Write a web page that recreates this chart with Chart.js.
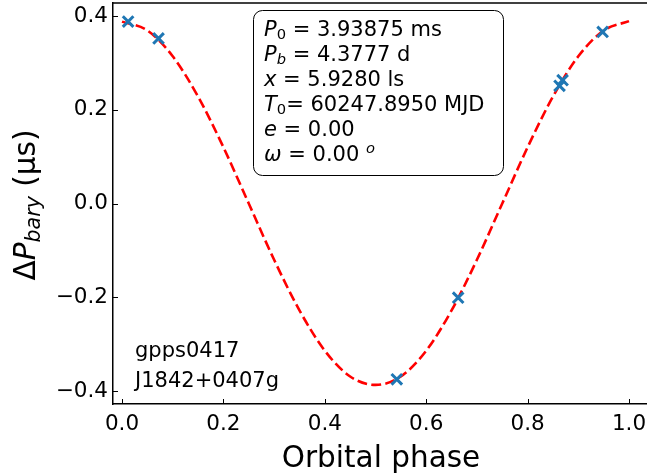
<!DOCTYPE html>
<html>
<head>
<meta charset="utf-8">
<script src="https://cdn.jsdelivr.net/npm/chart.js@4.4.1/dist/chart.umd.min.js"></script>
<style>
  html, body { margin: 0; padding: 0; background: #fff; }
  #wrap { width: 647px; height: 473px; }
</style>
</head>
<body>
<div id="wrap"><canvas id="orbit" width="647" height="473"></canvas></div>
<script>
// measured period offsets vs orbital phase
const obsPhase = [0.012, 0.072, 0.542, 0.663, 0.863, 0.869, 0.948];
const obsDeltaP = [0.388, 0.352, -0.375, -0.201, 0.251, 0.263, 0.366];

// model curve
const modelPhase = [0.00, 0.05, 0.10, 0.15, 0.20, 0.25, 0.30, 0.35, 0.40, 0.45, 0.50,
                    0.55, 0.60, 0.65, 0.70, 0.75, 0.80, 0.85, 0.90, 0.95, 1.00];
const modelDeltaP = [0.388, 0.369, 0.314, 0.228, 0.120, 0.000, -0.120, -0.228, -0.314, -0.369, -0.387,
                     -0.369, -0.314, -0.228, -0.120, 0.000, 0.120, 0.228, 0.314, 0.369, 0.389];

const xTickStep = 0.2;
const yTickStep = 0.2;

const paramLines = [
  [{ t: 'P', i: true }, { t: '0', sub: true }, { t: ' = 3.93875 ms' }],
  [{ t: 'P', i: true }, { t: 'b', i: true, sub: true }, { t: ' = 4.3777 d' }],
  [{ t: 'x', i: true }, { t: ' = 5.9280 ls' }],
  [{ t: 'T', i: true }, { t: '0', sub: true }, { t: '= 60247.8950 MJD' }],
  [{ t: 'e', i: true }, { t: ' = 0.00' }],
  [{ t: 'ω', i: true }, { t: ' = 0.00 ' }, { t: 'o', i: true, sup: true }]
];
const sourceNames = ['gpps0417', 'J1842+0407g'];

const FONT = '"DejaVu Sans", sans-serif';

function fmtTick(v) {
  if (Math.abs(v) < 1e-9) v = 0;
  return (v < 0 ? '\u2212' : '') + Math.abs(v).toFixed(1);
}

// draw a run of text pieces with italics / sub / superscripts
function richWidth(ctx, parts, size) {
  let w = 0;
  parts.forEach(p => {
    const s = (p.sub || p.sup) ? size * 0.7 : size;
    ctx.font = (p.i ? 'italic ' : '') + s + 'px ' + FONT;
    w += ctx.measureText(p.t).width;
  });
  return w;
}

function drawRich(ctx, x, y, parts, size) {
  ctx.textBaseline = 'alphabetic';
  ctx.textAlign = 'left';
  parts.forEach(p => {
    const s = (p.sub || p.sup) ? size * 0.7 : size;
    ctx.font = (p.i ? 'italic ' : '') + s + 'px ' + FONT;
    let dy = 0;
    if (p.sub) dy = size * 0.16;
    if (p.sup) dy = -size * 0.38;
    ctx.fillText(p.t, x, y + dy);
    x += ctx.measureText(p.t).width;
  });
}

const framePlugin = {
  id: 'frame',
  afterDraw(chart) {
    const ctx = chart.ctx;
    const a = chart.chartArea;
    const xs = chart.scales.x, ys = chart.scales.y;
    ctx.save();
    ctx.strokeStyle = '#000';

    // top spine
    ctx.lineWidth = 1.5;
    ctx.beginPath();
    ctx.moveTo(a.left - 0.75, a.top);
    ctx.lineTo(a.right, a.top);
    ctx.stroke();

    // inward ticks
    ctx.lineWidth = 1;
    xs.ticks.forEach(t => {
      const px = Math.round(xs.getPixelForValue(t.value)) + 0.5;
      ctx.beginPath();
      ctx.moveTo(px, a.bottom);
      ctx.lineTo(px, a.bottom - 5);
      ctx.stroke();
    });
    ys.ticks.forEach(t => {
      const py = Math.round(ys.getPixelForValue(t.value)) + 0.5;
      ctx.beginPath();
      ctx.moveTo(a.left, py);
      ctx.lineTo(a.left + 5, py);
      ctx.stroke();
    });

    ctx.fillStyle = '#000';

    // axis titles
    ctx.font = '29.5px ' + FONT;
    ctx.textAlign = 'center';
    ctx.textBaseline = 'alphabetic';
    ctx.fillText('Orbital phase', 381, 467);

    const yTitle = [{ t: 'Δ' }, { t: 'P', i: true }, { t: 'bary', i: true, sub: true }, { t: ' (μs)' }];
    const yw = richWidth(ctx, yTitle, 29.5);
    ctx.save();
    ctx.translate(35, 205);
    ctx.rotate(-Math.PI / 2);
    drawRich(ctx, -yw / 2, 0, yTitle, 29.5);
    ctx.restore();

    // parameter box
    const bx = 253.5, by = 10.5, bw = 250, bh = 165, r = 9;
    ctx.beginPath();
    ctx.moveTo(bx + r, by);
    ctx.lineTo(bx + bw - r, by);
    ctx.arcTo(bx + bw, by, bx + bw, by + r, r);
    ctx.lineTo(bx + bw, by + bh - r);
    ctx.arcTo(bx + bw, by + bh, bx + bw - r, by + bh, r);
    ctx.lineTo(bx + r, by + bh);
    ctx.arcTo(bx, by + bh, bx, by + bh - r, r);
    ctx.lineTo(bx, by + r);
    ctx.arcTo(bx, by, bx + r, by, r);
    ctx.closePath();
    ctx.fillStyle = '#fff';
    ctx.fill();
    ctx.lineWidth = 1;
    ctx.stroke();

    ctx.fillStyle = '#000';
    paramLines.forEach((line, k) => {
      drawRich(ctx, 264, 36 + k * 24.9, line, 21);
    });

    // source names
    ctx.font = '21px ' + FONT;
    ctx.textAlign = 'left';
    sourceNames.forEach((s, k) => ctx.fillText(s, 135, 357 + k * 30));

    ctx.restore();
  }
};

new Chart(document.getElementById('orbit'), {
  type: 'scatter',
  data: {
    datasets: [
      {
        label: 'observed',
        data: obsPhase.map((p, i) => ({ x: p, y: obsDeltaP[i] })),
        pointStyle: 'crossRot',
        pointRadius: 7.5,
        pointBorderWidth: 3,
        borderColor: '#1f77b4',
        backgroundColor: '#1f77b4',
        order: 0
      },
      {
        label: 'model',
        data: modelPhase.map((p, i) => ({ x: p, y: modelDeltaP[i] })),
        showLine: true,
        pointRadius: 0,
        borderColor: '#ff0000',
        borderWidth: 2.6,
        borderDash: [9.9, 4.3],
        cubicInterpolationMode: 'monotone',
        order: 1
      }
    ]
  },
  options: {
    responsive: false,
    devicePixelRatio: 1,
    animation: false,
    // no auto padding for point overflow, the frame must sit at fixed pixels
    layout: { autoPadding: false, padding: { top: 3, left: 0, right: 0, bottom: 0 } },
    plugins: { legend: { display: false }, tooltip: { enabled: false } },
    scales: {
      x: {
        type: 'linear',
        min: -0.0178,
        max: 1.0355,
        afterFit: s => { s.height = 69; s.paddingLeft = 0; s.paddingRight = 0; },
        grid: { display: false, drawTicks: false },
        border: { display: true, color: '#000', width: 1.5 },
        ticks: {
          stepSize: xTickStep,
          includeBounds: false,
          maxRotation: 0,
          padding: 8,
          color: '#000',
          font: { family: 'DejaVu Sans', size: 21.5 },
          callback: v => fmtTick(v)
        }
      },
      y: {
        type: 'linear',
        min: -0.4277,
        max: 0.4277,
        afterFit: s => { s.width = 113; s.paddingTop = 0; s.paddingBottom = 0; },
        grid: { display: false, drawTicks: false },
        border: { display: true, color: '#000', width: 1.5 },
        ticks: {
          stepSize: yTickStep,
          includeBounds: false,
          padding: 5,
          color: '#000',
          font: { family: 'DejaVu Sans', size: 21.5 },
          callback: v => fmtTick(v)
        }
      }
    }
  },
  plugins: [framePlugin]
});
</script>
</body>
</html>
